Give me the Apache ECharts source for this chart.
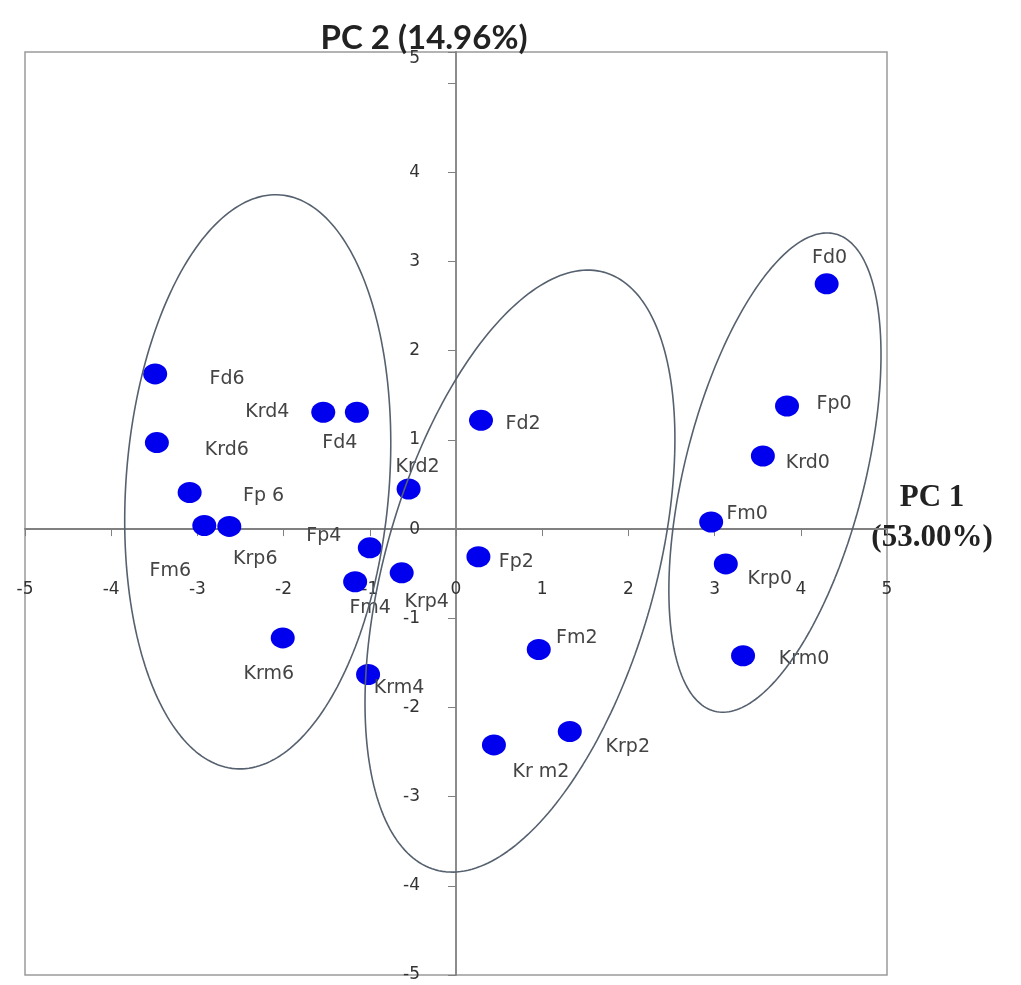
<!DOCTYPE html>
<html>
<head>
<meta charset="utf-8">
<script src="https://cdn.jsdelivr.net/npm/echarts@6/dist/echarts.min.js"></script>
<style>
  html, body { margin: 0; padding: 0; background: #ffffff; }
  #chart { width: 1021px; height: 985px; }
</style>
</head>
<body>
<div id="chart"></div>
<script>
// ---- data ----
const sampleNames = ['Fd0','Fp0','Krd0','Fm0','Krp0','Krm0',
                     'Fd2','Fp2','Fm2','Kr m2','Krp2','Krd2',
                     'Krd4','Fd4','Fp4','Fm4','Krp4','Krm4',
                     'Fd6','Krd6','Fp 6','Fm6','Krp6','Krm6'];
const pc1Scores = [4.30, 3.84, 3.56, 2.96, 3.13, 3.33,
                   0.29, 0.26, 0.96, 0.44, 1.32, -0.55,
                   -1.54, -1.15, -1.00, -1.17, -0.63, -1.02,
                   -3.49, -3.47, -3.09, -2.92, -2.63, -2.01];
const pc2Scores = [2.75, 1.38, 0.82, 0.08, -0.39, -1.42,
                   1.22, -0.31, -1.35, -2.42, -2.27, 0.45,
                   1.31, 1.31, -0.21, -0.59, -0.49, -1.63,
                   1.74, 0.97, 0.41, 0.04, 0.03, -1.22];
const xAxisTitleLines = ['PC 1', '(53.00%)'];
const yAxisTitle = 'PC 2 (14.96%)';
const axisMin = -5;
const xAxisMax = 5;
const yAxisMax = 5.35;   // frame extends slightly above the "5" tick in the reference

// group ellipses: centre + two conjugate semi-diameters, in data units
const groupEllipses = [
  { cx: -2.30, cy: 0.53,   ux: 0.262, uy: 3.217, vx: 1.521, vy: -0.115 },
  { cx: 0.742, cy: -0.471, ux: 0.980, uy: 3.350, vx: 1.507, vy: -0.413 },
  { cx: 3.70,  cy: 0.634,  ux: 0.700, uy: 2.676, vx: 1.012, vy: -0.246 }
];

// ---- layout / styling ----
const G = { left: 25, top: 52, width: 862, height: 923 };
// axes cross at the origin: shift them from the grid edges to the zero lines
const xZeroPx = G.width * (0 - axisMin) / (xAxisMax - axisMin);          // from left edge
const yZeroPx = G.height * (0 - axisMin) / (yAxisMax - axisMin);         // from bottom edge

const labelOffsets = {
  'Fd0':[3,-26], 'Fp0':[47,-2], 'Krd0':[45,7], 'Fm0':[36,-8], 'Krp0':[44,15], 'Krm0':[61,3],
  'Fd2':[42,4], 'Fp2':[38,5], 'Fm2':[38,-11], 'Kr m2':[47,27], 'Krp2':[58,16], 'Krd2':[9,-22],
  'Krd4':[-56,0], 'Fd4':[-17,31], 'Fp4':[-46,-12], 'Fm4':[15,26], 'Krp4':[25,29], 'Krm4':[31,14],
  'Fd6':[72,5], 'Krd6':[70,7], 'Fp 6':[74,4], 'Fm6':[-34,46], 'Krp6':[26,33], 'Krm6':[-14,36]
};

const pointData = sampleNames.map((n, i) => ({
  name: n,
  value: [pc1Scores[i], pc2Scores[i]],
  label: { offset: labelOffsets[n] || [30, 0] }
}));

function ellipsePath(e) {
  const pts = [];
  const steps = 240;
  for (let k = 0; k <= steps; k++) {
    const t = 2 * Math.PI * k / steps;
    pts.push([e.cx + e.ux * Math.cos(t) + e.vx * Math.sin(t),
              e.cy + e.uy * Math.cos(t) + e.vy * Math.sin(t)]);
  }
  return pts;
}

const ellipseSeries = groupEllipses.map(e => ({
  type: 'line',
  data: ellipsePath(e),
  showSymbol: false,
  symbol: 'none',
  smooth: false,
  silent: true,
  z: 5,
  lineStyle: { color: '#56616f', width: 1.6 }
}));

const chart = echarts.init(document.getElementById('chart'), null, { renderer: 'canvas' });
chart.setOption({
  animation: false,
  backgroundColor: '#ffffff',
  grid: {
    left: G.left, top: G.top, width: G.width, height: G.height,
    show: true, borderColor: '#9a9a9a', borderWidth: 1.5,
    containLabel: false,
    outerBoundsMode: 'none'
  },
  xAxis: {
    type: 'value',
    min: axisMin, max: xAxisMax, interval: 1,
    position: 'bottom',
    offset: -yZeroPx,
    // blank last line lifts the two-line title slightly above the axis line
    name: '{t|' + xAxisTitleLines[0] + '}\n{t|' + xAxisTitleLines[1] + '}\n{s| }',
    nameLocation: 'end',
    nameGap: 45,
    nameMoveOverlap: false,
    nameTextStyle: {
      align: 'center', verticalAlign: 'middle',
      rich: {
        t: { fontFamily: 'Liberation Serif', fontWeight: 'bold', fontSize: 31,
             color: '#222', lineHeight: 40, align: 'center' },
        s: { fontSize: 10, lineHeight: 22 }
      }
    },
    axisLine: { onZero: false, lineStyle: { color: '#808080', width: 1.8 } },
    axisTick: { show: true, inside: false, length: 7, lineStyle: { color: '#808080' } },
    axisLabel: { margin: 52, fontFamily: 'DejaVu Sans', fontSize: 17, color: '#333' },
    splitLine: { show: false }
  },
  yAxis: {
    type: 'value',
    min: axisMin, max: yAxisMax, interval: 1,
    position: 'left',
    offset: -xZeroPx,
    name: yAxisTitle,
    nameLocation: 'end',
    nameGap: 14,
    nameMoveOverlap: false,
    nameTextStyle: {
      fontFamily: 'Lato', fontWeight: 'bold', fontSize: 33, color: '#222',
      align: 'center', verticalAlign: 'middle', padding: [0, 64, 0, 0]
    },
    axisLine: { onZero: false, lineStyle: { color: '#808080', width: 1.8 } },
    axisTick: { show: true, inside: false, length: 8, lineStyle: { color: '#808080' } },
    axisLabel: {
      margin: 36, fontFamily: 'DejaVu Sans', fontSize: 17, color: '#333', lineHeight: 14,
      formatter: v => (v > 5.2 ? '\n5' : (v === 5 ? '' : String(v)))
    },
    splitLine: { show: false }
  },
  series: [
    {
      type: 'scatter',
      data: pointData,
      symbol: 'circle',
      symbolSize: [24, 21],
      z: 3,
      itemStyle: { color: '#0000ee', opacity: 1 },
      label: {
        show: true,
        position: 'inside',
        formatter: '{b}',
        fontFamily: 'DejaVu Sans',
        fontSize: 19,
        color: '#444'
      }
    }
  ].concat(ellipseSeries)
});
</script>
</body>
</html>
